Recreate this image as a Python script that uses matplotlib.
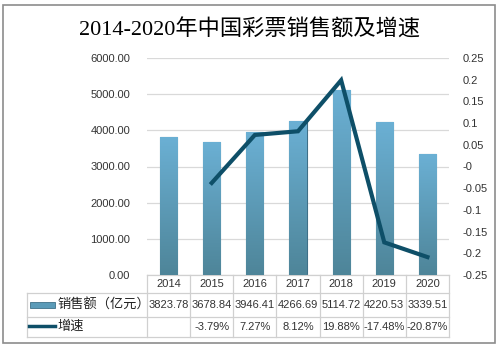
import numpy as np
import matplotlib.pyplot as plt
from matplotlib.patches import Rectangle
from matplotlib.lines import Line2D
from matplotlib.colors import LinearSegmentedColormap

plt.rcParams['font.family'] = ['Liberation Sans', 'Noto Sans CJK SC']

years = ['2014', '2015', '2016', '2017', '2018', '2019', '2020']
sales = [3823.78, 3678.84, 3946.41, 4266.69, 5114.72, 4220.53, 3339.51]
growth = [None, -0.0379, 0.0727, 0.0812, 0.1988, -0.1748, -0.2087]
growth_labels = ['', '-3.79%', '7.27%', '8.12%', '19.88%', '-17.48%', '-20.87%']

W, H = 499, 349
fig = plt.figure(figsize=(W / 100, H / 100), dpi=100)

# outer border
fig.patches.append(Rectangle((3 / W, 6 / H), 492 / W, 338 / H, transform=fig.transFigure,
                             fill=False, edgecolor='#8c8c8c', lw=1.2))

fig.text(0.5, 1 - 30 / H, '2014-2020年中国彩票销售额及增速', ha='center', va='center',
         fontsize=16, family=['Liberation Serif', 'Noto Sans CJK SC'], color='black')

ax = fig.add_axes([147 / W, 74 / H, 302 / W, 217 / H])
x = np.arange(len(years))

bars = ax.bar(x, sales, width=0.4, color='#5b9bb8', edgecolor='#3f7088', linewidth=0.8, zorder=2)
grad = np.linspace(0, 1, 100).reshape(-1, 1)
cmap = LinearSegmentedColormap.from_list('g', ['#4e8599', '#6bb0d4'])
for b in bars:
    x0, w, h = b.get_x(), b.get_width(), b.get_height()
    im = ax.imshow(grad, cmap=cmap, origin='lower', aspect='auto',
                   extent=[x0, x0 + w, 0, h], zorder=2.5)
    im.set_clip_path(b)
ax.set_xlim(-0.5, 6.5)
ax.set_ylim(0, 6000)
ax.set_yticks(np.arange(0, 6001, 1000))
ax.set_yticklabels([f'{v:.2f}' for v in np.arange(0, 6001, 1000)])
ax.grid(axis='y', color='#d9d9d9', lw=0.9, zorder=0)
ax.set_xticks([])
for s in ax.spines.values():
    s.set_visible(False)
ax.tick_params(axis='y', length=0, pad=12, labelsize=8, labelcolor='#333333')

ax2 = ax.twinx()
ax2.set_ylim(-0.25, 0.25)
ticks = np.round(np.arange(-0.25, 0.2501, 0.05), 2)
ax2.set_yticks(ticks)
ax2.set_yticklabels([f'{v:g}' for v in ticks])
ax2.tick_params(axis='y', length=0, pad=10, labelsize=8, labelcolor='#333333')
for s in ax2.spines.values():
    s.set_visible(False)
gx = [i for i, g in enumerate(growth) if g is not None]
gy = [g for g in growth if g is not None]
ax2.plot(gx, gy, color='#0e4f68', lw=3, solid_joinstyle='miter', zorder=3)

# data table below the plot
tr = ax.get_xaxis_transform()
ah = 217  # axes height in px
def fy(py):
    # figure pixel row (from top) -> axes y fraction
    return (H - py - 74) / ah

line_c = '#d0d0d0'
rows = [275, 293, 317, 337]
left_px = 27
for r in rows[1:]:
    ax.add_line(Line2D([(left_px - 147) / 302, 1], [fy(r), fy(r)], transform=ax.transAxes,
                       color=line_c, lw=0.9, clip_on=False))
ax.add_line(Line2D([0, 1], [fy(275), fy(275)], transform=ax.transAxes,
                   color=line_c, lw=0.9, clip_on=False))
for i in range(len(years) + 1):
    ax.add_line(Line2D([i - 0.5, i - 0.5], [fy(275), fy(337)], transform=tr,
                       color=line_c, lw=0.9, clip_on=False))
ax.add_line(Line2D([(left_px - 147) / 302] * 2, [fy(293), fy(337)], transform=ax.transAxes,
                   color=line_c, lw=0.9, clip_on=False))

for i in range(len(years)):
    ax.text(i, fy(284), years[i], transform=tr, ha='center', va='center', fontsize=8,
            color='#333333', clip_on=False)
    ax.text(i, fy(305), f'{sales[i]:.2f}', transform=tr, ha='center', va='center',
            fontsize=8, color='#333333', clip_on=False)
    ax.text(i, fy(327), growth_labels[i], transform=tr, ha='center', va='center',
            fontsize=8, color='#333333', clip_on=False)

# legend keys in table
fig.patches.append(Rectangle((30 / W, 1 - 308 / H), 25 / W, 6 / H, transform=fig.transFigure,
                             facecolor='#5b9bb8', edgecolor='#3f7088', lw=0.6))
fig.lines.append(Line2D([29 / W, 55 / W], [1 - 326 / H] * 2, transform=fig.transFigure,
                        color='#0e4f68', lw=2.5))
fig.text(57 / W, 1 - 305 / H, '销售额（亿元）', ha='left', va='center', fontsize=9.5,
         color='#222222', family=['Noto Sans CJK SC'])
fig.text(57 / W, 1 - 326 / H, '增速', ha='left', va='center', fontsize=9.5,
         color='#222222', family=['Noto Sans CJK SC'])

fig.savefig('out.png', dpi=100)
